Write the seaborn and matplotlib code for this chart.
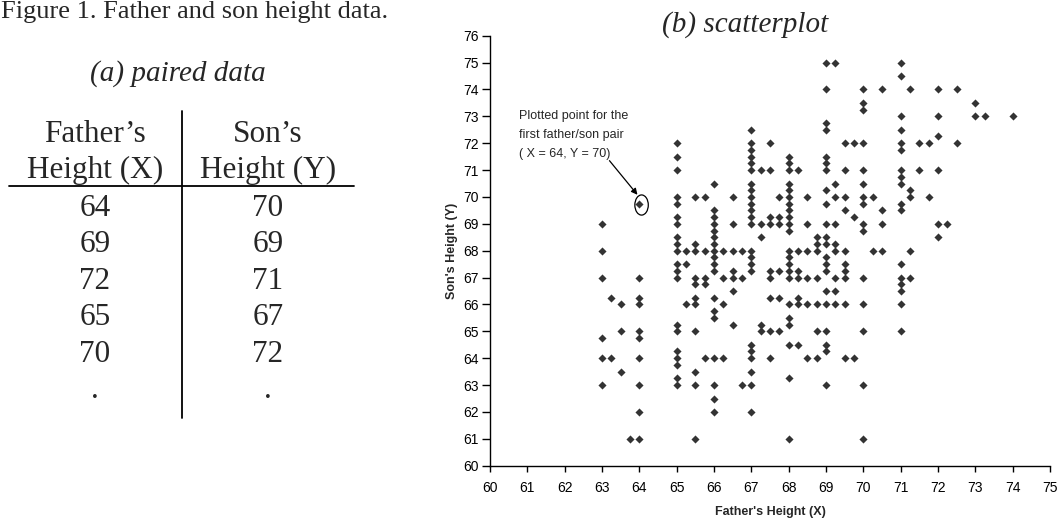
import matplotlib
matplotlib.use("Agg")
import matplotlib.pyplot as plt
from matplotlib.patches import Ellipse
from matplotlib.lines import Line2D
import pandas as pd
import seaborn as sns

# ============================
# DATA
# ============================
# first rows of the paired-data table
table_father = [64, 69, 72, 65, 70]
table_son = [70, 69, 71, 67, 72]

# scatter: father heights (one per column) and the son heights plotted above each
father_cols = [63, 63.25, 63.5, 63.75, 64, 65, 65.25, 65.5, 65.75, 66, 66.25, 66.5,
               66.75, 67, 67.25, 67.5, 67.75, 68, 68.25, 68.5, 68.75, 69, 69.25,
               69.5, 69.75, 70, 70.25, 70.5, 71, 71.25, 71.5, 71.75, 72, 72.25,
               72.5, 73, 73.25, 74]
son_by_col = [
    [69, 68, 67, 64.75, 64, 63],
    [66.25, 64],
    [66, 65, 63.5],
    [61],
    [69.75, 67, 66.25, 66, 65, 64.75, 64, 63, 62, 61],
    [72, 71.5, 71, 70, 69.75, 69.25, 69, 68.5, 68.25, 68, 67.5, 67.25, 67, 65.25,
     65, 64.25, 64, 63.75, 63.25, 63],
    [68, 67.5, 66],
    [70, 68.25, 68, 67, 66.75, 66.25, 66, 65, 63.5, 63, 61],
    [70, 68, 67, 66.75, 64],
    [70.5, 69.5, 69.25, 69, 68.75, 68.5, 68.25, 68, 67.75, 67.5, 67.25, 66.25,
     65.75, 65.5, 64, 63, 62.5, 62],
    [68, 67, 66, 64],
    [70, 69, 68, 67.25, 67, 66.5, 65.25],
    [68, 67, 63],
    [72.5, 72, 71.75, 71.5, 71.25, 71, 70.5, 70.25, 70, 69.75, 69.5, 69.25, 69,
     68, 67.75, 67.5, 67.25, 64.5, 64.25, 64, 63.5, 63, 62],
    [71, 69, 68.5, 65.25, 65],
    [72, 71, 69.25, 69, 67.25, 67, 66.25, 65, 64],
    [70, 69.25, 69, 67.25, 66.25, 65],
    [71.5, 71.25, 71, 70.5, 70.25, 70, 69.75, 69.5, 69.25, 69, 68.75, 68, 67.75,
     67.5, 67.25, 67, 66, 65.5, 65.25, 64.5, 63.25, 61],
    [71, 68, 67.25, 67, 66.25, 66, 64.5],
    [70, 69, 68, 67, 66, 64],
    [68.5, 68.25, 68, 67, 66, 65, 64],
    [75, 74, 72.75, 72.5, 71.5, 71.25, 71, 70.25, 69.75, 69, 68.5, 68.25, 67.75,
     67.5, 67.25, 66.5, 66, 65, 64.5, 64.25, 63],
    [75, 70.5, 70, 69, 68.25, 68, 67, 66.5, 66],
    [72, 71, 70, 69.5, 68, 67.5, 67.25, 67, 66, 64],
    [72, 69.25, 64],
    [74, 73.5, 73.25, 72, 71, 70.5, 70, 69.75, 69, 68.75, 67, 66, 65, 63, 61],
    [70, 68],
    [74, 69.5, 69, 68],
    [75, 74.5, 73, 72.5, 72, 71.75, 71, 70.75, 70.5, 69.75, 69.5, 67.5, 67,
     66.75, 66.5, 66, 65],
    [74, 70.25, 70, 68, 67],
    [72, 71],
    [72, 70],
    [74, 73, 72.25, 71, 69, 68.5],
    [69],
    [74, 72],
    [73.5, 73],
    [73],
    [73],
]

x_ticks = list(range(60, 76))
y_ticks = list(range(60, 77))

rows = []
for f, sons in zip(father_cols, son_by_col):
    for s in sons:
        rows.append((f, s))
df = pd.DataFrame(rows, columns=["father", "son"])

# ============================
# STYLE
# ============================
sns.set_style("ticks")
plt.rcParams["font.family"] = ["Liberation Sans", "DejaVu Sans"]

W, H = 1058, 521
fig = plt.figure(figsize=(W / 100, H / 100), dpi=100)


def fx(px):
    return px / W


def fy(py):
    return 1 - py / H


serif = ["Liberation Serif", "DejaVu Serif"]

# ============================
# LEFT: PAIRED DATA TABLE
# ============================
fig.text(fx(1), fy(18), "Figure 1. Father and son height data.", ha="left",
         va="baseline", family=serif, fontsize=19)
fig.text(fx(178), fy(81), "(a) paired data", ha="center", va="baseline",
         family=serif, style="italic", fontsize=21)

col_f, col_s = 95, 268
tsize = 22.5
fig.text(fx(col_f), fy(142), "Father\u2019s", ha="center", va="baseline", family=serif, fontsize=tsize)
fig.text(fx(col_f), fy(178), "Height (X)", ha="center", va="baseline", family=serif, fontsize=tsize)
fig.text(fx(col_s), fy(142), "Son\u2019s", ha="center", va="baseline", family=serif, fontsize=tsize)
fig.text(fx(col_s), fy(178), "Height (Y)", ha="center", va="baseline", family=serif, fontsize=tsize)

row_base = [216, 252, 289, 325, 362]
for yb, f, s in zip(row_base, table_father, table_son):
    fig.text(fx(col_f), fy(yb), str(f), ha="center", va="baseline", family=serif, fontsize=tsize)
    fig.text(fx(col_s), fy(yb), str(s), ha="center", va="baseline", family=serif, fontsize=tsize)
fig.text(fx(col_f), fy(398), ".", ha="center", va="baseline", family=serif, fontsize=tsize)
fig.text(fx(col_s), fy(398), ".", ha="center", va="baseline", family=serif, fontsize=tsize)

fig.add_artist(Line2D([fx(182), fx(182)], [fy(111), fy(418)], color="black", lw=1.3))
fig.add_artist(Line2D([fx(9), fx(354)], [fy(186), fy(186)], color="black", lw=1.3))

# ============================
# RIGHT: SCATTERPLOT
# ============================
ax = fig.add_axes([fx(490), fy(465.7), 560 / W, 430 / H])
sns.scatterplot(data=df, x="father", y="son", ax=ax, marker="D", s=17,
                color="#333333", linewidth=0)

ax.set_xlim(60, 75)
ax.set_ylim(60, 76)
ax.set_xticks(x_ticks)
ax.set_yticks(y_ticks)
ax.tick_params(axis="x", length=4, width=1, pad=7, labelsize=10, colors="black")
ax.tick_params(axis="y", length=6, width=1, pad=2, labelsize=10, colors="black")
sns.despine(ax=ax)
for sp in ["left", "bottom"]:
    ax.spines[sp].set_linewidth(1)
    ax.spines[sp].set_color("black")

ax.set_xlabel("Father's Height (X)", fontsize=9, fontweight="bold")
ax.set_ylabel("Son's Height (Y)", fontsize=9, fontweight="bold")
ax.xaxis.set_label_coords(0.5, -0.093)
ax.yaxis.set_label_coords(-0.058, 0.5)

fig.text(fx(745), fy(32), "(b) scatterplot", ha="center", va="baseline",
         family=serif, style="italic", fontsize=21)

# annotation of the first pair
ax.add_patch(Ellipse((64.06, 69.7), 0.36, 0.75, fill=False, edgecolor="black", lw=0.9))
ax.text(60.78, 73.25, "Plotted point for the\nfirst father/son pair\n( X = 64, Y = 70)",
        ha="left", va="top", fontsize=9, linespacing=1.8)
ax.annotate("", xy=(63.95, 70.08), xytext=(63.2, 71.35),
            arrowprops=dict(arrowstyle="-|>", color="black", lw=0.9,
                            mutation_scale=9, shrinkA=0, shrinkB=0))

fig.savefig("out.png", dpi=100)
